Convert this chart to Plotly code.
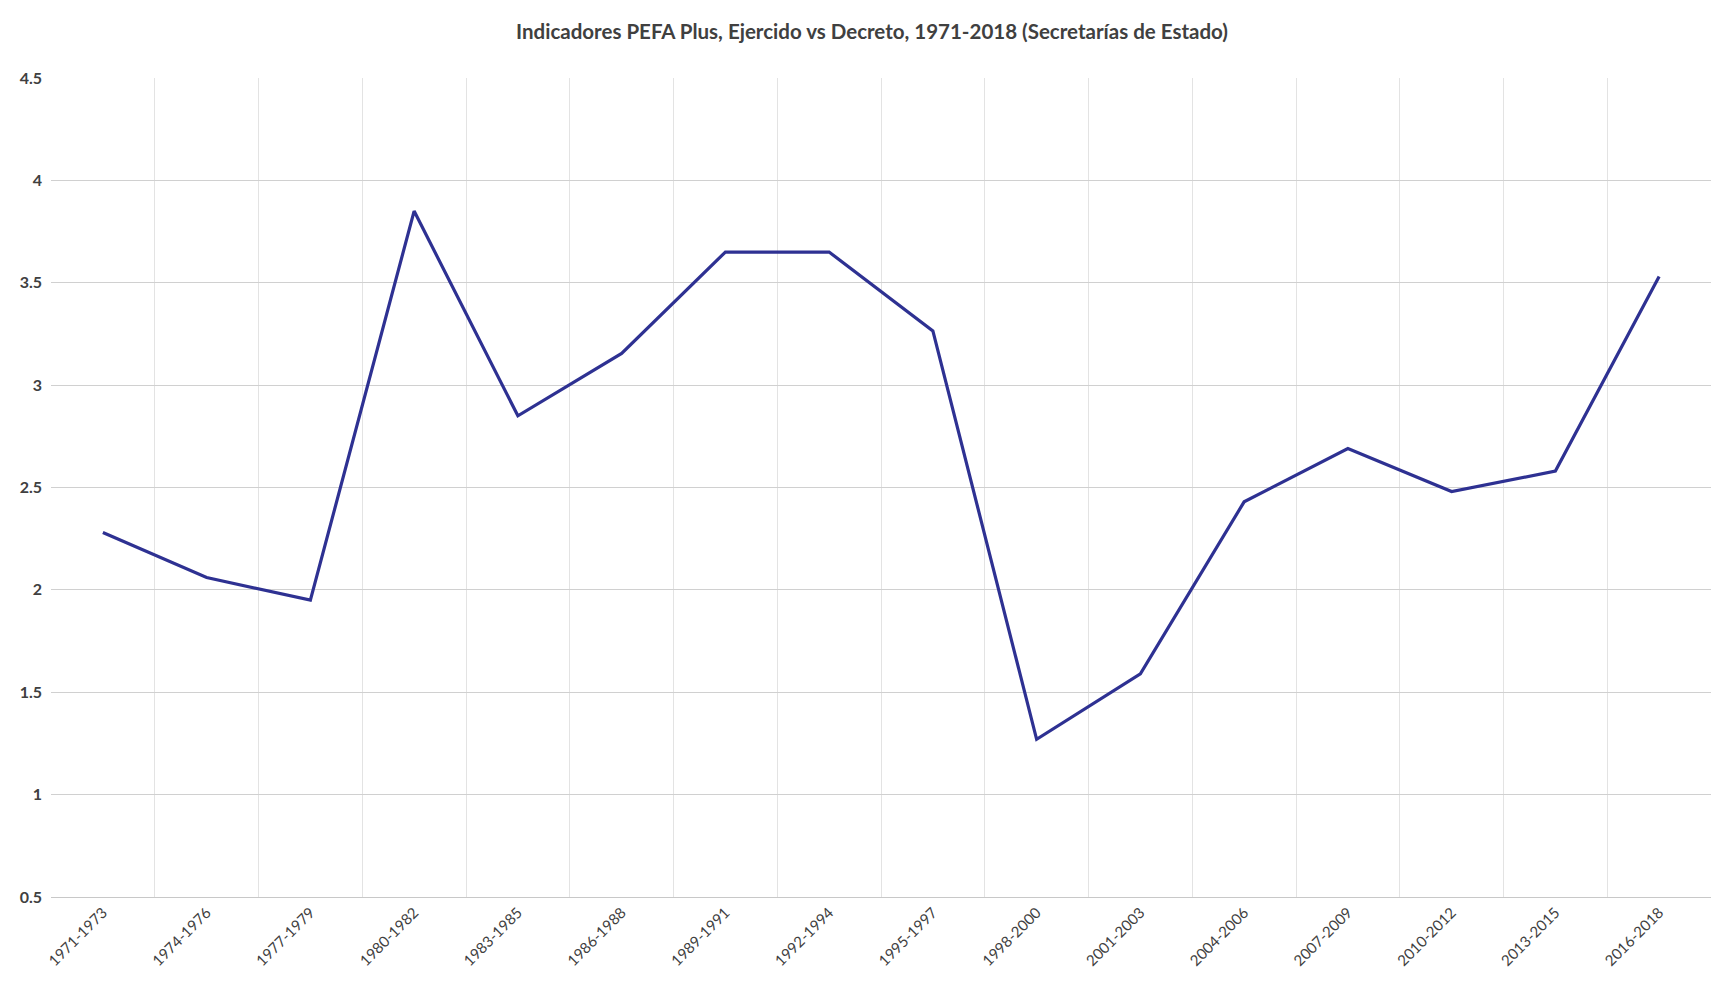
import plotly.graph_objects as go

# Periods (category axis) and indicator values
periods = [
    '1971-1973', '1974-1976', '1977-1979', '1980-1982', '1983-1985', '1986-1988',
    '1989-1991', '1992-1994', '1995-1997', '1998-2000', '2001-2003', '2004-2006',
    '2007-2009', '2010-2012', '2013-2015', '2016-2018',
]
values = [2.28, 2.06, 1.95, 3.85, 2.85, 3.155, 3.65, 3.65, 3.265,
          1.27, 1.59, 2.43, 2.69, 2.48, 2.58, 3.53]

y_ticks = [0.5, 1, 1.5, 2, 2.5, 3, 3.5, 4, 4.5]
y_labels = ['0.5', '1', '1.5', '2', '2.5', '3', '3.5', '4', '4.5']

title = 'Indicadores PEFA Plus, Ejercido vs Decreto, 1971-2018 (Secretarías de Estado)'

fig = go.Figure()

fig.add_trace(go.Scatter(
    x=periods,
    y=values,
    mode='lines',
    line=dict(color='#2E3192', width=3.2),
    showlegend=False,
))

# Page body has an 8px margin, so the figure is a little smaller than the window
fig.update_layout(
    width=1728,
    height=980,
    title=dict(
        text='<b>' + title + '</b>',
        x=0.5,
        xanchor='center',
        y=1 - 24 / 980,
        yanchor='middle',
        font=dict(family='Lato, Open Sans, sans-serif', size=20.5, color='#404040'),
    ),
    font=dict(family='Lato, Open Sans, sans-serif', color='#404040'),
    paper_bgcolor='white',
    plot_bgcolor='white',
    margin=dict(l=38, r=25, t=70, b=91),
    xaxis=dict(
        type='category',
        tickson='boundaries',
        range=[-0.5, len(periods) - 0.5],
        tickangle=-45,
        showgrid=True,
        gridcolor='#e3e3e3',
        gridwidth=1,
        showline=True,
        linecolor='#c8c8c8',
        ticks='',
        tickfont=dict(size=15, color='#404040'),
    ),
    yaxis=dict(
        range=[0.5, 4.5],
        tickvals=y_ticks,
        ticktext=['<b>' + t + '</b>' for t in y_labels],
        showgrid=True,
        gridcolor='#d0d0d0',
        gridwidth=1,
        zeroline=False,
        showline=False,
        ticks='',
        ticklabelstandoff=8,
        tickfont=dict(size=16, color='#404040'),
    ),
)

fig.write_html('out.html')
